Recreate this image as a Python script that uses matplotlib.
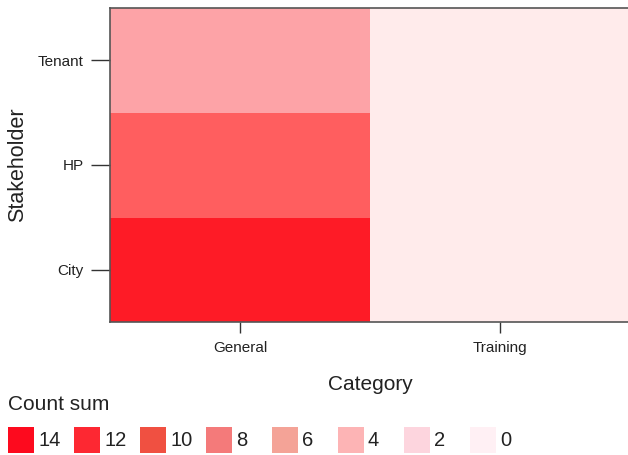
import numpy as np
import matplotlib
matplotlib.use("Agg")
import matplotlib.pyplot as plt
from matplotlib.colors import LinearSegmentedColormap
from matplotlib.patches import Rectangle

plt.rcParams['font.family'] = ['Liberation Sans', 'DejaVu Sans']

categories = ["General", "Training"]
stakeholders = ["City", "HP", "Tenant"]
# rows follow stakeholders (bottom to top), columns follow categories
counts = np.array([
    [13, 0],
    [9, 0],
    [5, 0],
])

legend_values = [14, 12, 10, 8, 6, 4, 2, 0]
legend_colors = ["#fd0a1e", "#fd2832", "#f05041", "#f47a7a",
                 "#f4a397", "#fdb4b5", "#fdd5de", "#fff0f4"]

# continuous colour scale used for the cells
cmap = LinearSegmentedColormap.from_list(
    "countsum",
    [(0.0, "#ffebeb"), (5 / 14, "#fda3a7"), (9 / 14, "#ff5f60"),
     (13 / 14, "#ff1c27"), (1.0, "#fd0a1e")])

W, H = 628, 455
fig = plt.figure(figsize=(W / 100, H / 100), dpi=100)
ax = fig.add_axes([110 / W, 1 - 322 / H, 520 / W, 314 / H])

ax.imshow(counts, cmap=cmap, vmin=0, vmax=14, origin="lower",
          aspect="auto", interpolation="nearest",
          extent=[-0.5, len(categories) - 0.5, -0.5, len(stakeholders) - 0.5])

ax.set_xticks(range(len(categories)))
ax.set_xticklabels(categories)
ax.set_yticks(range(len(stakeholders)))
ax.set_yticklabels(stakeholders)
ax.tick_params(axis="x", length=8, width=1, color="#333333", pad=6,
               labelsize=11, labelcolor="#222222")
ax.tick_params(axis="y", length=14, width=1, color="#333333", pad=5,
               labelsize=11, labelcolor="#222222")
for s in ax.spines.values():
    s.set_color("#555555")
    s.set_linewidth(1.2)
ax.spines["right"].set_visible(False)

ax.set_xlabel("Category", fontsize=15, color="#222222", labelpad=14)
ax.set_ylabel("Stakeholder", fontsize=15.5, color="#222222", labelpad=7)

# legend
fig.text(8 / W, 1 - 405 / H, "Count sum", fontsize=15, color="#222222",
         ha="left", va="center")
x0 = 8
for v, c in zip(legend_values, legend_colors):
    fig.patches.append(Rectangle((x0 / W, 1 - 453 / H), 26 / W, 26 / H,
                                 transform=fig.transFigure, facecolor=c,
                                 edgecolor="none"))
    fig.text((x0 + 30) / W, 1 - 440 / H, str(v), fontsize=14.5,
             color="#222222", ha="left", va="center")
    x0 += 66

fig.savefig("out.png", dpi=100)
